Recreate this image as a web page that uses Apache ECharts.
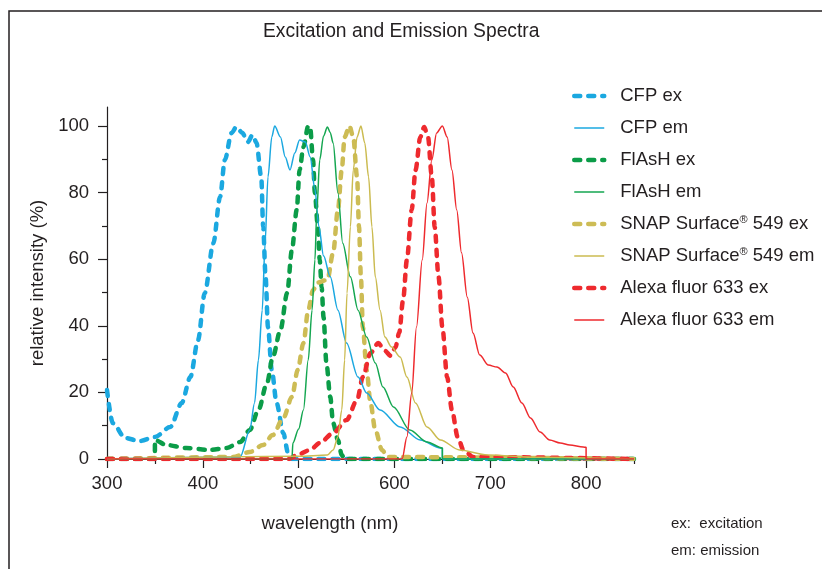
<!DOCTYPE html>
<html>
<head>
<meta charset="utf-8">
<script src="https://cdn.jsdelivr.net/npm/echarts@6/dist/echarts.min.js"></script>
<style>html,body{margin:0;padding:0;background:#fff;}#c{width:822px;height:569px;}</style>
</head>
<body>
<div id="c"></div>
<script>
// ---- data ----
const xMajorTicks = [300, 400, 500, 600, 700, 800];
const xMinorTicks = [350, 450, 550, 650, 750, 850];
const yMajorTicks = [0, 20, 40, 60, 80, 100];
const yMinorTicks = [10, 30, 50, 70, 90];

const cfpExX = [300,306,319,334,350,366,378,387,395,402,411,418,423,430,435,441,447,452,456,461,463,465.5,468,472,477,484,489,493,850];
const cfpExY = [20.7,10.8,6.3,5.4,6.6,9.6,16.8,24.6,35.7,49.8,64.8,78.7,89.8,97.9,99.7,98,95.2,97.3,95,84.7,69.7,54.7,39.6,26.7,16.8,7.8,1.8,0,0];

const cfpEmX = [300,439,449,454,458,462,465,468,472,475,481,486,491,496,501,507,512,517,521,526,533,541,550,562,571,585,606,627,648,650,650,850];
const cfpEmY = [0,0.6,8.7,16.8,29.7,44.7,64.8,84.7,96.7,100,96.7,90.7,86.8,91.9,95.8,95.2,90.7,81,70,61,54.7,44.7,34.8,24.6,19.8,14.7,9.6,5.7,3.3,3.2,0,0];

const flashExX = [300,350,350,362,383,407,425,439,449,458,467,473,481,488,493,498,501,505,510,512,515,517,520,522,524,526,529,533,536,541,545,548,850];
const flashExY = [0,0,5.7,4.2,3.3,2.7,3.3,5.1,8.7,14.7,22.8,30.6,38.7,49.8,62.8,74.8,86.8,93.7,100,99.7,89.8,79.9,69.7,59.8,51.7,42.6,28.8,18.6,10.8,5.7,1.2,0,0];

const flashEmX = [300,493,494,500,505,510,514,517,519,522,526,530,533,536,541,546,554,562,571,580,588,599,616,634,650,650,850];
const flashEmY = [0,0,4.8,9,14.7,29.7,44.7,59.8,74.8,89.8,97,99.7,98,94.9,79.9,64.8,54.7,44.7,36.6,28.8,21.6,15.6,8.7,5.1,3.3,0,0];

const snapExX = [300,431,449,463,473,484,493,499,505,510,515,520,530,536,541,545,548,553,557,561,563,565,567,571,575,580,587,593,850];
const snapExY = [0,0.6,2.1,4.2,7.2,12.3,18.6,26.7,34.8,44.7,50.7,53,53.8,61.9,74.8,86.8,96.7,100,96.7,84.7,69.7,54.7,39.6,26.7,16.8,8.7,2.7,0.6,0];

const snapEmX = [300,500,530,536,541,545,548,550.5,554,557,561,565,569,573,576.5,580,585,590,597,606,613,622,634,648,668,697,750,850];
const snapEmY = [0,0.8,1.2,2.7,6.6,14.7,29.7,49.8,69.7,86.8,96.7,100,94.9,84.7,69.7,54.7,44.7,36.6,33.6,30.6,24.6,16.8,9.6,5.7,2.7,1.2,0.5,0];

const alexaExX = [300,490,498,512,522,536,550,561,567,575,583,590,596,601,605,609,613,618,622,627,631,635,639,642,646,650,655,660,666,672,682,850];
const alexaExY = [0,0,1.2,2.7,4.8,7.8,11.7,17.7,24.6,31.8,34.8,32.5,31,33.5,38,47.7,59.8,74.8,86.8,96.7,99.7,96.7,84.7,69.7,54.7,39.6,24.6,14.7,6.6,2.7,0.6,0];

const alexaEmX = [300,608,613,618,623,629,634,639,644,650,655,660,665,670,676,682,689,698,707,716,724,733,742,752,762,773,783,797,800,800,850];
const alexaEmY = [0,0,6.6,19.8,39.6,59.8,76.9,89.8,97.9,100,96.7,86.8,74.8,61.9,48.6,37.8,31.2,28.2,27.6,25.8,21.6,16.8,12.3,8.1,5.7,4.8,4.2,3.6,3.5,0,0];

const seriesNames = ['CFP ex','CFP em','FlAsH ex','FlAsH em','SNAP Surface® 549 ex','SNAP Surface® 549 em','Alexa fluor 633 ex','Alexa fluor 633 em'];
const seriesColors = ['#1BA8E0','#1BA8E0','#0B9C48','#14A650','#CDBC55','#CBBB50','#EE2A2E','#EE2A2E'];
const seriesX = [cfpExX, cfpEmX, flashExX, flashEmX, snapExX, snapEmX, alexaExX, alexaEmX];
const seriesY = [cfpExY, cfpEmY, flashExY, flashEmY, snapExY, snapEmY, alexaExY, alexaEmY];

// ---- chart ----
const zip = (xs, ys) => xs.map((x, i) => [x, ys[i]]);
const txt = '#231F20';
const font = 'Liberation Sans, Arial, Helvetica, sans-serif';

const series = seriesNames.map((name, i) => {
  const dashed = / ex$/.test(name);
  return {
    name: name,
    type: 'line',
    xAxisIndex: 0, yAxisIndex: 0,
    data: zip(seriesX[i], seriesY[i]),
    symbol: 'none',
    showSymbol: false,
    smooth: 0.3,
    smoothMonotone: 'x',
    clip: true,
    color: seriesColors[i],
    itemStyle: { color: seriesColors[i], opacity: 0 },
    lineStyle: dashed
      ? { color: seriesColors[i], width: 4.5, type: [6, 8], cap: 'round' }
      : { color: seriesColors[i], width: 1.5 },
    z: dashed ? 2 : 3,
    animation: false
  };
});

const chart = echarts.init(document.getElementById('c'), null, { renderer: 'canvas' });
chart.setOption({
  animation: false,
  backgroundColor: '#fff',
  textStyle: { fontFamily: font, color: txt },
  title: [
    { text: 'Excitation and Emission Spectra', left: 263, top: 22, padding: 0,
      textStyle: { fontFamily: font, fontSize: 19.3, fontWeight: 'normal', color: txt } },
    { text: 'ex:  excitation\nem: emission', left: 671, top: 510, padding: 0,
      textStyle: { fontFamily: font, fontSize: 15, fontWeight: 'normal', color: txt, lineHeight: 27 } }
  ],
  graphic: [
    { type: 'rect', shape: { x: 9, y: 11, width: 900, height: 700 },
      style: { fill: 'none', stroke: '#231F20', lineWidth: 1.5 }, silent: true, z: 100 }
  ],
  legend: {
    orient: 'vertical',
    left: 572, top: 86, padding: 0,
    itemWidth: 30, itemHeight: 14, itemGap: 12,
    data: seriesNames,
    lineStyle: { width: 'inherit', type: 'inherit', cap: 'inherit' },
    itemStyle: { opacity: 0, borderWidth: 0, color: 'transparent' },
    formatter: n => n.replace('®', '{sup|®}'),
    textStyle: {
      fontFamily: font, fontSize: 18.5, color: txt, lineHeight: 20, padding: [0, 0, 0, 11],
      rich: { sup: { fontSize: 11, fontFamily: font, color: txt, lineHeight: 20, padding: [0, 0, 9, 0] } }
    }
  },
  grid: { left: 107, top: 107, width: 527, height: 352, containLabel: false },
  xAxis: [
    { type: 'value', min: 300, max: 850, gridIndex: 0,
      name: 'wavelength (nm)', nameLocation: 'middle', nameGap: 55,
      nameTextStyle: { fontFamily: font, fontSize: 18.5, color: txt, padding: [0, 81, 0, 0] },
      axisLine: { show: true, lineStyle: { color: txt, width: 1.2 } },
      axisTick: { show: true, length: 9, customValues: xMajorTicks, lineStyle: { color: txt, width: 1.2 } },
      axisLabel: { show: true, customValues: xMajorTicks, margin: 15, fontFamily: font, fontSize: 18.5, color: txt },
      splitLine: { show: false } },
    { type: 'value', min: 300, max: 850, gridIndex: 0, position: 'bottom',
      axisLine: { show: false },
      axisTick: { show: true, length: 5, customValues: xMinorTicks, lineStyle: { color: txt, width: 1.2 } },
      axisLabel: { show: false },
      splitLine: { show: false } }
  ],
  yAxis: [
    { type: 'value', min: 0, max: 105.7, gridIndex: 0,
      name: 'relative intensity (%)', nameLocation: 'middle', nameGap: 53, nameRotate: 90,
      nameTextStyle: { fontFamily: font, fontSize: 18.5, color: txt },
      axisLine: { show: true, lineStyle: { color: txt, width: 1.2 } },
      axisTick: { show: true, length: 9, customValues: yMajorTicks, lineStyle: { color: txt, width: 1.2 } },
      axisLabel: { show: true, customValues: yMajorTicks, margin: 18, fontFamily: font, fontSize: 18.5, color: txt },
      splitLine: { show: false } },
    { type: 'value', min: 0, max: 105.7, gridIndex: 0, position: 'left',
      axisLine: { show: false },
      axisTick: { show: true, length: 5, customValues: yMinorTicks, lineStyle: { color: txt, width: 1.2 } },
      axisLabel: { show: false },
      splitLine: { show: false } }
  ],
  series: series
});
</script>
</body>
</html>
